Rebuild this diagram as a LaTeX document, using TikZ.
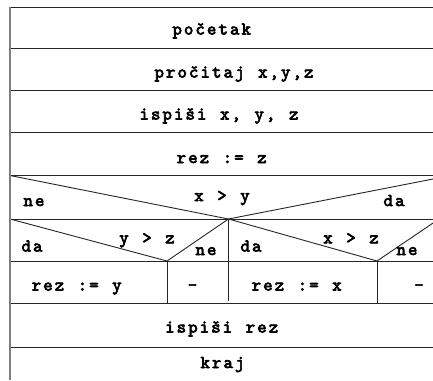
\documentclass[tikz,border=0pt]{standalone}
\usepackage{fontspec}
\newfontfamily\nsmono{lmmono10-regular.otf}[FakeBold=3.5,Scale=1.8]
\newcommand\nsfont{\nsmono}
\ExplSyntaxOn
\NewDocumentCommand\ns{m}{\str_map_inline:nn{#1}{\makebox[11.5pt][c]{##1}}}
\ExplSyntaxOff
\begin{document}
\begin{tikzpicture}[x=1pt,y=-1pt,
  rule/.style={draw=black!85,line width=0.9pt},
  border/.style={draw=black!50,line width=1.8pt},
  lbl/.style={anchor=base,inner sep=0pt,font=\nsfont}]
\useasboundingbox (0,0) rectangle (433,380);
\begin{scope}
\clip (0,0) rectangle (433,380);
% row lines
\foreach \yy in {7,48.5,90.5,132.5,175.5,219,261,303.5,347.5}
  \draw[rule] (9,\yy) -- (440,\yy);
% apexes
\coordinate (A) at (228.5,219);
\coordinate (B) at (167,261);
\coordinate (C) at (377,261);
\draw[rule] (10,175.5) -- (A) -- (451,175.5);
\draw[rule] (10,219) -- (B) -- (A);
\draw[rule] (A) -- (C) -- (439,219);
\draw[rule] (A) -- (228.5,301);
\draw[rule] (B) -- (167,303.5);
\draw[rule] (C) -- (377,303.5);
\end{scope}
\draw[border] (10,7) -- (10,380);
% texts
\node[lbl] (t1) at (211.7,34.5) {\ns{početak}};
\node[lbl] (t2) at (234,77.5) {\ns{pročitaj x,y,z}};
\node[lbl] (t3) at (219,119.5) {\ns{ispiši x, y, z}};
\node[lbl] (t4) at (221.7,163) {\ns{rez := z}};
\node[lbl] (c1) at (222,201) {\ns{x > y}};
\node[lbl] (c1n) at (34,206) {\ns{ne}};
\node[lbl] (c1d) at (394,206) {\ns{da}};
\node[lbl] (c2) at (147,243.3) {\ns{y > z}};
\node[lbl] (c2d) at (32,251.5) {\ns{da}};
\node[lbl] (c2n) at (206,255) {\ns{ne}};
\node[lbl] (c3) at (351,243.3) {\ns{x > z}};
\node[lbl] (c3d) at (251,251.5) {\ns{da}};
\node[lbl] (c3n) at (407,255) {\ns{ne}};
\node[lbl] (r1) at (76.7,290.5) {\ns{rez := y}};
\node[lbl] (r2) at (192.5,290.5) {\ns{-}};
\node[lbl] (r3) at (296.7,290.5) {\ns{rez := x}};
\node[lbl] (r4) at (419,290.5) {\ns{-}};
\node[lbl] (t5) at (221.7,332.5) {\ns{ispiši rez}};
\node[lbl] (t6) at (222.5,368) {\ns{kraj}};
\end{tikzpicture}
\end{document}
